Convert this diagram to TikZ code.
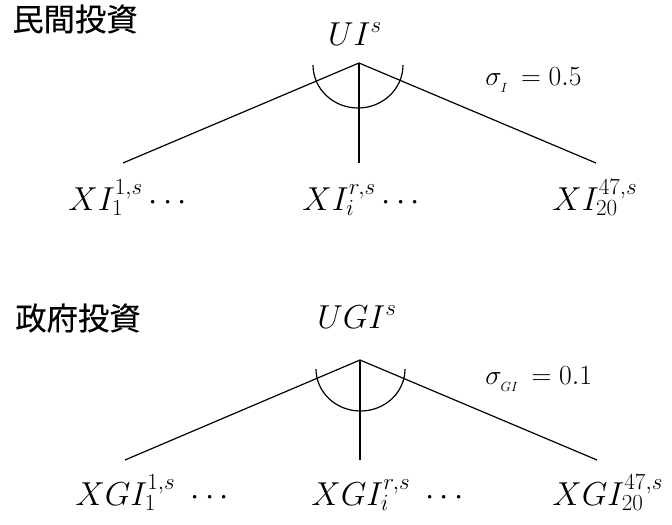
\documentclass[tikz,border=0pt]{standalone}
\usepackage{fontspec}
\newfontfamily\cjk{Noto Sans CJK JP}[FakeBold=0.35]
\begin{document}
\begin{tikzpicture}[x=0.75pt,y=-0.75pt,
  title/.style={font=\cjk\fontsize{23.5}{26}\selectfont, inner sep=0pt},
  lab/.style={font=\fontsize{23}{28}\selectfont, inner sep=0pt, anchor=base west},
  top/.style={font=\fontsize{23}{28}\selectfont, inner sep=0pt, anchor=base},
  sig/.style={font=\fontsize{19.5}{22}\selectfont, inner sep=0pt, anchor=base west},
  branch/.style={line width=0.9pt},
  elas/.style={line width=0.9pt}]
\useasboundingbox (0,0) rectangle (672,525);

% ---------- private investment ----------
\node[title] (t1) at (75,19) {民間投資};
\node[top] (u1) at (355,45) {$UI^s$};
\coordinate (a1) at (359,63);
\coordinate (l1) at (123,163);
\coordinate (m1) at (359,163);
\coordinate (r1) at (596,163);
\draw[branch] (a1) -- (l1);
\draw[branch] (a1) -- (m1);
\draw[branch] (a1) -- (r1);
\draw[elas] (313,65) arc[start angle=180,end angle=0,x radius=45,y radius=43];
\node[sig] (s1) at (485,85) {$\sigma_{_I}\,=0.5$};
\node[lab] (x11) at (68,210) {$XI_1^{1,s}\cdots$};
\node[lab] (x12) at (302,210) {$XI_i^{r,s}\cdots$};
\node[lab] (x13) at (552,210) {$XI_{20}^{47,s}$};

% ---------- government investment ----------
\node[title] (t2) at (78,318) {政府投資};
\node[top] (u2) at (357,328) {$UGI^s$};
\coordinate (a2) at (360,360);
\coordinate (l2) at (125,460);
\coordinate (m2) at (360,460);
\coordinate (r2) at (597,460);
\draw[branch] (a2) -- (l2);
\draw[branch] (a2) -- (m2);
\draw[branch] (a2) -- (r2);
\draw[elas] (316,369) arc[start angle=180,end angle=0,x radius=44.5,y radius=42];
\node[sig] (s2) at (485,384) {$\sigma_{_{GI}}\,=0.1$};
\node[lab] (x21) at (75,505) {$XGI_1^{1,s}\ \cdots$};
\node[lab] (x22) at (311,505) {$XGI_i^{r,s}\ \cdots$};
\node[lab] (x23) at (552,505) {$XGI_{20}^{47,s}$};
\end{tikzpicture}
\end{document}
